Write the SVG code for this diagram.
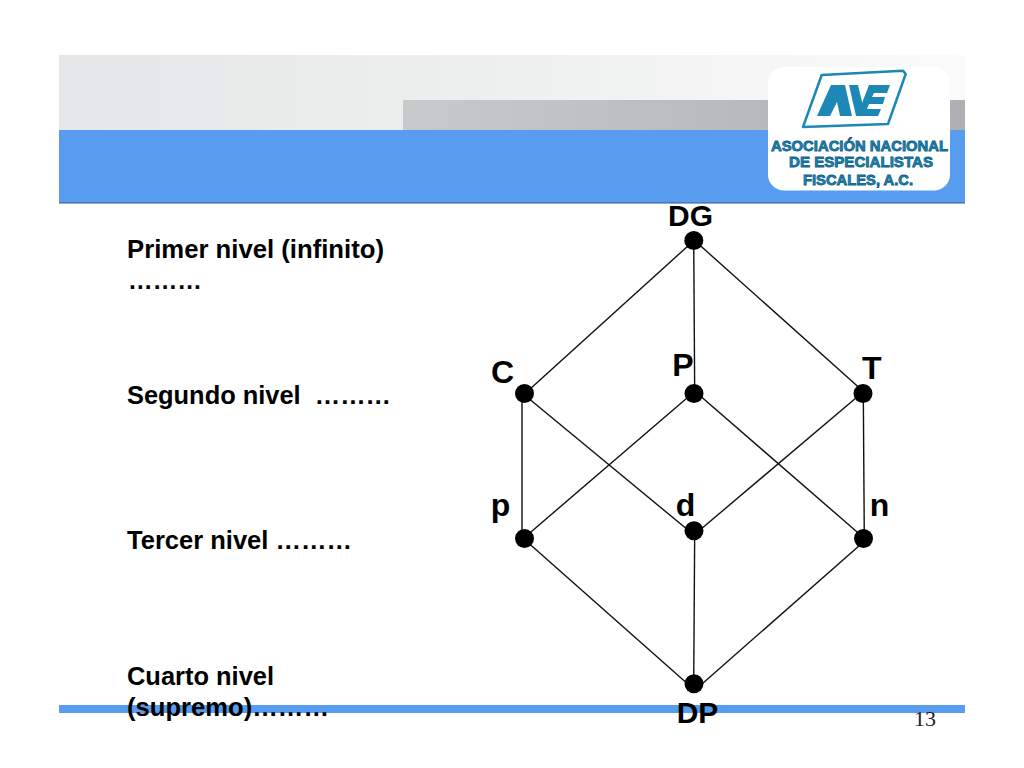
<svg xmlns="http://www.w3.org/2000/svg" width="1024" height="768" viewBox="0 0 1024 768">
<defs>
<linearGradient id="hdr" x1="0" x2="1" y1="0" y2="0"><stop offset="0" stop-color="#e5e6e7"/><stop offset="0.45" stop-color="#edeeee"/><stop offset="1" stop-color="#fbfbfb"/></linearGradient>
<linearGradient id="hdr2" x1="0" x2="1" y1="0" y2="0"><stop offset="0" stop-color="#c8c9cb"/><stop offset="1" stop-color="#aeb0b3"/></linearGradient>
</defs>
<style>
.nv{font-family:"Liberation Sans",Arial,sans-serif;font-weight:bold;font-size:25px;fill:#000}
.big{font-family:"Liberation Sans",Arial,sans-serif;font-weight:bold;font-size:32px;fill:#000;text-anchor:middle}
.wide{font-size:30px}
.logo{font-family:"Liberation Sans",Arial,sans-serif;font-weight:bold;font-size:15px;fill:#1d87b5;stroke:#0f5f86;stroke-width:.8;text-anchor:middle}
.mark{fill:#1d87b5}
.edge{stroke:#111;stroke-width:1.4;fill:none}
.dot{fill:#000}
</style>
<rect width="1024" height="768" fill="#fff"/>
<g id="header">
<rect x="59" y="55" width="906" height="75" fill="url(#hdr)"/>
<rect x="403" y="100" width="562" height="30" fill="url(#hdr2)"/>
<rect x="59" y="130" width="906" height="73" fill="#589cef"/>
<rect x="59" y="202.500" width="906" height="1" fill="#2c5a92"/>
<rect x="59" y="705" width="906" height="8" fill="#589cef"/>
</g>
<g id="logo">
<rect x="768" y="67" width="182" height="123.500" rx="16" fill="#fff"/>
<path d="M821.700 75 L903 70.700 L905.700 74 L888 124 L803 127 Z" fill="#fff" stroke="#1d87b5" stroke-width="2.500" stroke-linejoin="round"/>
<path class="mark" d="M817 116 L831 85 L845 85 L852 116 L840 116 L837 102 L830 116 Z"/>
<path class="mark" d="M849 85 H858 L863 106 L872 85 H877 L863 116 H856 Z"/>
<path class="mark" d="M869 85 H890 L887 93 H874 L872 97 H885 L883 104 H869 L867 109 H881 L878 116 H857 Z"/>
<text class="logo" x="859.500" y="150.500" textLength="177" lengthAdjust="spacingAndGlyphs">ASOCIACIÓN NACIONAL</text>
<text class="logo" x="861" y="167" textLength="144" lengthAdjust="spacingAndGlyphs">DE ESPECIALISTAS</text>
<text class="logo" x="858" y="185" textLength="110" lengthAdjust="spacingAndGlyphs">FISCALES, A.C.</text>
</g>
<g id="connectors">
<path class="edge" d="M694 240.500 L524.500 394"/>
<path class="edge" d="M693.700 240 L694.700 394"/>
<path class="edge" d="M694 240 L864 392"/>
<path class="edge" d="M522 394 L522 538"/>
<path class="edge" d="M524.500 395 L694 535"/>
<path class="edge" d="M694 392 L524.500 537.500"/>
<path class="edge" d="M694 390.500 L864 538"/>
<path class="edge" d="M863 392 L694 535"/>
<path class="edge" d="M863.300 394 L864.300 538"/>
<path class="edge" d="M524.500 539.500 L694 689.500"/>
<path class="edge" d="M694.700 531 L693.700 684"/>
<path class="edge" d="M864 541.500 L694 691"/>
</g>
<g id="node-DG"><circle class="dot" cx="693.800" cy="240.500" r="9.500"/><text class="big wide" x="690.500" y="226">DG</text></g>
<g id="node-C"><circle class="dot" cx="524.500" cy="393.500" r="9.500"/><text class="big" x="502.500" y="383">C</text></g>
<g id="node-P"><circle class="dot" cx="694" cy="393.500" r="9.500"/><text class="big" x="683" y="376">P</text></g>
<g id="node-T"><circle class="dot" cx="863" cy="393.500" r="9.500"/><text class="big" x="871.700" y="379">T</text></g>
<g id="node-p"><circle class="dot" cx="524.500" cy="538.500" r="9.500"/><text class="big" x="500.500" y="516">p</text></g>
<g id="node-d"><circle class="dot" cx="694" cy="530.700" r="9.500"/><text class="big" x="685.500" y="515.500">d</text></g>
<g id="node-n"><circle class="dot" cx="863.500" cy="538.500" r="9.500"/><text class="big" x="879.500" y="516">n</text></g>
<g id="node-DP"><circle class="dot" cx="694" cy="683.800" r="9.500"/><text class="big wide" x="697.500" y="723">DP</text></g>
<g id="levels">
<text class="nv" x="127" y="257.500" textLength="257" lengthAdjust="spacingAndGlyphs">Primer nivel (infinito)</text>
<text class="nv" x="128" y="288.500" textLength="74" lengthAdjust="spacingAndGlyphs">………</text>
<text class="nv" x="127" y="404" textLength="264" lengthAdjust="spacingAndGlyphs" xml:space="preserve">Segundo nivel  ………</text>
<text class="nv" x="127" y="548.500" textLength="225" lengthAdjust="spacingAndGlyphs">Tercer nivel ………</text>
<text class="nv" x="127" y="685" textLength="147" lengthAdjust="spacingAndGlyphs">Cuarto nivel</text>
<text class="nv" x="127" y="716" textLength="202" lengthAdjust="spacingAndGlyphs">(supremo)………</text>
</g>
<text x="936" y="725.500" text-anchor="end" font-family="Liberation Serif,Times New Roman,serif" font-size="22" fill="#222">13</text>
</svg>
